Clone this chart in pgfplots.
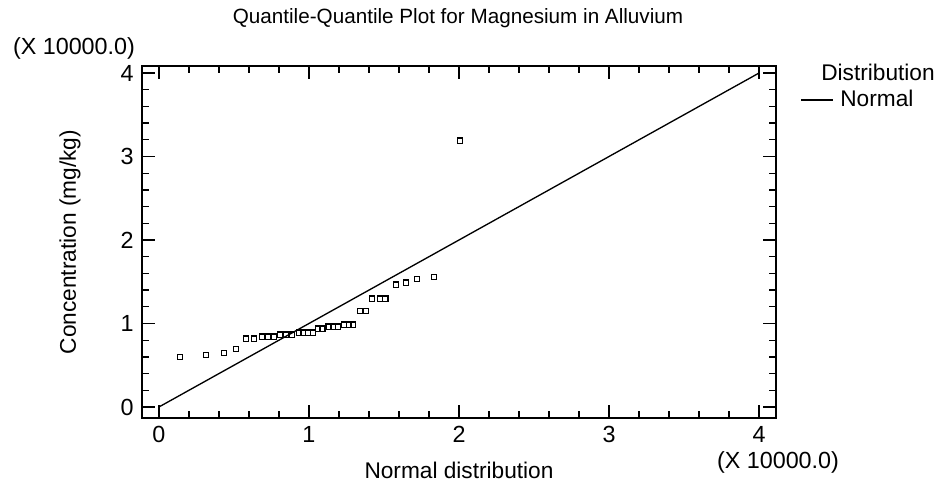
\documentclass[border=0pt]{standalone}
\usepackage{fontspec}
\setmainfont{Liberation Sans}
\usepackage{pgfplots}
\pgfplotsset{compat=1.18}
\begin{document}
\begin{tikzpicture}
\fontsize{17}{20}\selectfont
\path[use as bounding box] (-106.5pt,-53.25pt) rectangle (600pt,313.5pt);
\begin{axis}[
  at={(0,0)}, anchor=south west,
  scale only axis,
  width=475.5pt, height=264pt,
  xmin=-0.113, xmax=4.113,
  ymin=-0.132, ymax=4.084,
  xtick={0,1,2,3,4}, ytick={0,1,2,3,4},
  minor tick num=4,
  tick align=inside,
  major tick length=9.75pt,
  minor tick length=5pt,
  every tick/.style={black, line width=1pt},
  axis line style={line width=1.2pt},
  /pgf/number format/assume math mode=true,
  tick label style={font=\fontsize{17.5}{20}\selectfont},
  yticklabel style={xshift=-0.5pt},
  xticklabel style={yshift=-0.5pt},
  clip=false,
  legend style={at={(1.038,0.903)}, anchor=west, draw=none, fill=none, inner sep=0pt,
    font=\fontsize{17}{20}\selectfont},
  legend cell align=left,
]
\addplot[black, line width=1pt,
  legend image code/.code={\draw[line width=1pt] (0pt,0pt) -- (24pt,0pt);}]
  coordinates {(0,0) (4,4)};
\addlegendentry{\hspace{3pt}Normal}
\addplot[only marks, mark=square, mark size=1.9pt, mark options={black, line width=1pt}, forget plot]
  coordinates {
(0.140,0.599) (0.313,0.626) (0.435,0.650) (0.513,0.698)
(0.580,0.818) (0.633,0.818)
(0.687,0.842) (0.727,0.842) (0.767,0.842)
(0.807,0.866) (0.847,0.866) (0.887,0.866)
(0.935,0.890) (0.962,0.890) (0.995,0.890) (1.025,0.890)
(1.060,0.938) (1.091,0.938)
(1.131,0.962) (1.162,0.962) (1.193,0.962)
(1.233,0.986) (1.265,0.986) (1.295,0.986)
(1.340,1.153) (1.380,1.153)
(1.420,1.297) (1.473,1.297) (1.509,1.297)
(1.580,1.465) (1.647,1.489) (1.722,1.530) (1.833,1.560)
(2.007,3.190)
};
\end{axis}
\node[font=\fontsize{15.5}{18}\selectfont] at (237pt,300pt) {Quantile-Quantile Plot for Magnesium in Alluvium};
\node[font=\fontsize{17.5}{20}\selectfont] at (-51pt,277.5pt) {(X 10000.0)};
\node[font=\fontsize{17.5}{20}\selectfont] at (477pt,-33pt) {(X 10000.0)};
\node at (237.75pt,-39pt) {Normal distribution};
\node[rotate=90] at (-54pt,132pt) {Concentration (mg/kg)};
\node at (552pt,259pt) {Distribution};
\end{tikzpicture}
\end{document}
